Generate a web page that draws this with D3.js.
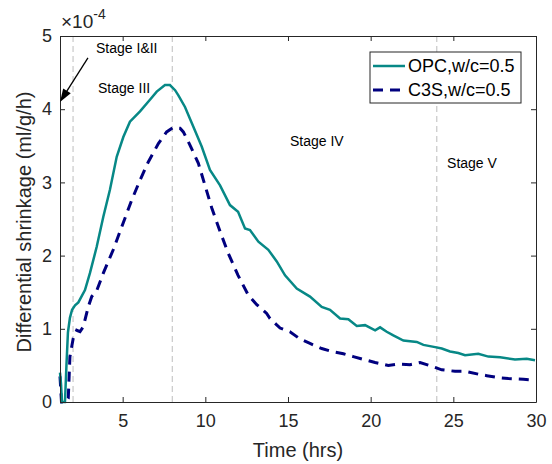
<!DOCTYPE html>
<html>
<head>
<meta charset="utf-8">
<script src="https://cdn.jsdelivr.net/npm/d3@7"></script>
<style>
  body { margin: 0; background: #fff; }
  text { font-family: "Liberation Sans", Arial, Helvetica, sans-serif; }
</style>
</head>
<body>
<div id="chart"></div>
<script>
// data (values in units of 1e-4 ml/g/h)
var opcTime = [1.21,1.27,1.33,1.51,1.60,1.69,1.81,1.94,2.12,2.32,2.72,3.02,3.43,3.83,4.23,4.64,5.04,5.44,6.05,6.65,7.06,7.56,7.86,8.17,8.37,8.77,9.18,9.78,10.28,10.89,11.49,11.98,12.40,12.70,13.21,13.81,14.32,14.82,15.53,16.33,17.04,17.54,18.15,18.65,19.16,19.66,20.27,20.57,20.97,21.37,21.98,22.79,23.19,23.90,24.30,24.80,25.30,25.71,26.51,27.12,27.83,28.73,29.44,29.94]
var opcVal = [0.40,0.25,0.0,0.0,0.5,0.95,1.15,1.26,1.32,1.36,1.53,1.76,2.12,2.53,2.90,3.35,3.62,3.83,3.97,4.13,4.24,4.33,4.33,4.26,4.19,4.03,3.81,3.49,3.17,2.96,2.69,2.60,2.37,2.35,2.19,2.08,1.92,1.73,1.55,1.44,1.30,1.26,1.14,1.13,1.04,1.05,0.98,1.02,0.96,0.91,0.84,0.82,0.78,0.75,0.73,0.69,0.67,0.64,0.66,0.62,0.61,0.58,0.59,0.57]

var c3sTime = [1.21,1.30,1.55,1.71,1.81,2.01,2.22,2.42,2.62,2.92,3.13,3.43,3.83,4.43,4.94,5.55,6.05,6.55,7.16,7.66,8.06,8.47,8.67,9.07,9.58,9.98,10.39,10.89,11.39,11.98,12.60,13.11,13.71,13.91,14.52,15.12,15.73,16.33,17.04,17.65,18.35,18.95,19.76,20.27,21.07,21.68,22.38,22.99,23.79,24.30,25.10,25.71,26.51,27.02,27.83,28.33,29.24,29.84]
var c3sVal = [0.35,0.0,0.0,0.05,0.62,0.87,0.98,0.96,1.03,1.30,1.44,1.52,1.76,2.08,2.39,2.76,3.03,3.28,3.53,3.69,3.75,3.74,3.69,3.51,3.26,2.96,2.65,2.33,2.03,1.73,1.46,1.33,1.21,1.14,1.01,0.96,0.86,0.80,0.73,0.69,0.66,0.62,0.57,0.54,0.50,0.52,0.51,0.54,0.48,0.44,0.42,0.42,0.38,0.36,0.33,0.32,0.31,0.30]

var xTicks = [5,10,15,20,25,30]
var yTicks = [0,1,2,3,4,5]
var stageLines = [2,8,24]
var stageNames = ['Stage I&II','Stage III','Stage IV','Stage V']
var stageX = [3.39,3.51,15.12,24.62]
var stageY = [4.77,4.22,3.50,3.20]
var seriesNames = ['OPC,w/c=0.5','C3S,w/c=0.5']
// arrow from label to axis, in data units
var arrowFrom = [2.9, 4.70], arrowTo = [1.21, 4.10]

var W = 552, H = 464
var m = {left:60, right:16, top:36, bottom:62}
var ink = '#262626'

var svg = d3.select('#chart').append('svg')
    .attr('width', W).attr('height', H)

var x = d3.scaleLinear().domain([1.21, 30]).range([m.left, W - m.right])
var y = d3.scaleLinear().domain([0, 5]).range([H - m.bottom, m.top])

// stage dividers
svg.selectAll('.stage')
    .data(stageLines).enter().append('line')
    .attr('class', 'stage')
    .attr('x1', d => x(d)).attr('x2', d => x(d))
    .attr('y1', y(0)).attr('y2', y(5))
    .attr('stroke', '#bdbdbd')
    .attr('stroke-width', 1)
    .attr('stroke-dasharray', '6,4')

var line = d3.line().x(d => x(d[0])).y(d => y(d[1]))

svg.append('path')
    .datum(c3sTime.map((t, i) => [t, c3sVal[i]]))
    .attr('d', line)
    .attr('fill', 'none')
    .attr('stroke', '#00007f')
    .attr('stroke-width', 3)
    .attr('stroke-dasharray', '10,7')

svg.append('path')
    .datum(opcTime.map((t, i) => [t, opcVal[i]]))
    .attr('d', line)
    .attr('fill', 'none')
    .attr('stroke', '#078886')
    .attr('stroke-width', 2.5)

// axes box
var g = svg.append('g')
g.append('g')
    .attr('transform', `translate(0,${y(0)})`)
    .call(d3.axisBottom(x).tickValues(xTicks).tickSizeInner(-5).tickSizeOuter(0).tickPadding(12))
g.append('g')
    .attr('transform', `translate(0,${y(5)})`)
    .call(d3.axisTop(x).tickValues(xTicks).tickSizeInner(-5).tickSizeOuter(0).tickFormat(''))
g.append('g')
    .attr('transform', `translate(${x(1.21)},0)`)
    .call(d3.axisLeft(y).tickValues(yTicks).tickFormat(d3.format('d')).tickSizeInner(-5).tickSizeOuter(0).tickPadding(8))
g.append('g')
    .attr('transform', `translate(${x(30)},0)`)
    .call(d3.axisRight(y).tickValues(yTicks).tickSizeInner(-5).tickSizeOuter(0).tickFormat(''))
g.selectAll('.domain').attr('stroke', ink)
g.selectAll('.tick line').attr('stroke', ink)
g.selectAll('.tick text')
    .attr('font-size', 18)
    .attr('fill', ink)
    .attr('font-family', '"Liberation Sans", Arial, sans-serif')

// exponent
var ex = svg.append('text')
    .attr('x', x(1.21) + 1).attr('y', y(5) - 8)
    .attr('font-size', 19).attr('fill', ink)
ex.append('tspan').text('\u00d710')
ex.append('tspan').attr('dy', -9).attr('font-size', 14).text('-4')

// axis titles
svg.append('text')
    .attr('x', (x(1.21) + x(30)) / 2).attr('y', 457)
    .attr('text-anchor', 'middle')
    .attr('font-size', 20).attr('fill', ink)
    .text('Time (hrs)')
svg.append('text')
    .attr('transform', `translate(24,222) rotate(-90)`)
    .attr('text-anchor', 'middle')
    .attr('dy', '0.35em')
    .attr('font-size', 20).attr('fill', ink)
    .text('Differential shrinkage (ml/g/h)')

// stage labels
svg.selectAll('.stlab')
    .data(stageNames).enter().append('text')
    .attr('class', 'stlab')
    .attr('x', (d, i) => x(stageX[i]))
    .attr('y', (d, i) => y(stageY[i]))
    .attr('font-size', 14)
    .attr('fill', '#000')
    .text(d => d)

// arrow (shaft + filled head)
var ax0 = x(arrowFrom[0]), ay0 = y(arrowFrom[1])
var ax1 = x(arrowTo[0]), ay1 = y(arrowTo[1])
var ang = Math.atan2(ay1 - ay0, ax1 - ax0)
var hl = 13, hw = 4.5
var bx = ax1 - hl * Math.cos(ang), by = ay1 - hl * Math.sin(ang)
svg.append('line')
    .attr('x1', ax0).attr('y1', ay0)
    .attr('x2', bx + 2 * Math.cos(ang)).attr('y2', by + 2 * Math.sin(ang))
    .style('stroke', '#000').style('stroke-width', '1.3px')
svg.append('path')
    .attr('d', `M${ax1},${ay1}L${bx + hw * Math.sin(ang)},${by - hw * Math.cos(ang)}L${bx - hw * Math.sin(ang)},${by + hw * Math.cos(ang)}Z`)
    .attr('fill', '#000')

// legend
var lg = svg.append('g').attr('transform', 'translate(370,52)')
lg.append('rect')
    .attr('width', 151).attr('height', 51)
    .attr('fill', '#fff').attr('stroke', ink).attr('stroke-width', 1)
var items = [
  {name: seriesNames[0], color: '#078886', dash: null, w: 2.5},
  {name: seriesNames[1], color: '#00007f', dash: '10,7', w: 3}
]
items.forEach(function(it, i){
    var yy = 14 + i * 24
    lg.append('line')
        .attr('x1', 3).attr('x2', 35).attr('y1', yy).attr('y2', yy)
        .attr('stroke', it.color).attr('stroke-width', it.w)
        .attr('stroke-dasharray', it.dash)
    lg.append('text')
        .attr('x', 38).attr('y', yy + 6)
        .attr('font-size', 18).attr('fill', '#000')
        .text(it.name)
})
</script>
</body>
</html>
